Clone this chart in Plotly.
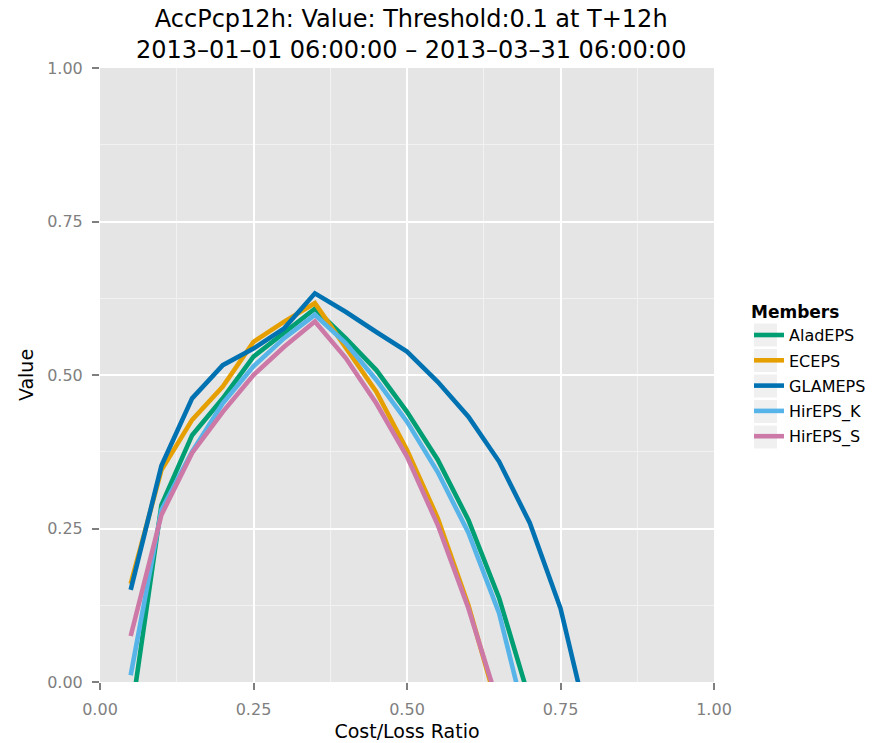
import plotly.graph_objects as go

# Cost/loss ratios at which the economic value was evaluated
cost_loss = [0.05, 0.10, 0.15, 0.20, 0.25, 0.30, 0.35, 0.40, 0.45, 0.50,
             0.55, 0.60, 0.65, 0.70, 0.75, 0.80]

# Relative economic value per ensemble member set
aladeps = [-0.06, 0.288, 0.402, 0.462, 0.530, 0.568, 0.608, 0.560, 0.508, 0.440,
           0.362, 0.264, 0.137, -0.03]
eceps = [0.160, 0.345, 0.427, 0.481, 0.554, 0.587, 0.617, 0.546, 0.473, 0.378,
         0.267, 0.125, -0.05]
glameps = [0.150, 0.352, 0.462, 0.516, 0.543, 0.576, 0.633, 0.603, 0.570, 0.538,
           0.489, 0.432, 0.359, 0.259, 0.120, -0.09]
hireps_k = [0.011, 0.280, 0.375, 0.454, 0.514, 0.560, 0.598, 0.552, 0.492, 0.424,
            0.342, 0.243, 0.112, -0.09]
hireps_s = [0.075, 0.272, 0.373, 0.440, 0.500, 0.546, 0.587, 0.528, 0.454, 0.367,
            0.256, 0.120, -0.04]

members = ["AladEPS", "ECEPS", "GLAMEPS", "HirEPS_K", "HirEPS_S"]
values = [aladeps, eceps, glameps, hireps_k, hireps_s]
colors = ["#009E73", "#E69F00", "#0072B2", "#56B4E9", "#CC79A7"]

x_ticks = [0.0, 0.25, 0.5, 0.75, 1.0]
x_ticklabels = ["0.00", "0.25", "0.50", "0.75", "1.00"]
y_ticks = [0.0, 0.25, 0.5, 0.75, 1.0]
y_ticklabels = ["0.00", "0.25", "0.50", "0.75", "1.00"]

title_text = ("AccPcp12h: Value: Threshold:0.1 at T+12h<br>"
              "2013\u201301\u201301 06:00:00 \u2013 2013\u201303\u201331 06:00:00")

FONT = "DejaVu Sans, Verdana, sans-serif"

# plot-area geometry in pixels (used for the legend key backgrounds)
W, H = 893, 743
ML, MR, MT, MB = 100, 179, 68, 61
PW, PH = W - ML - MR, H - MT - MB

fig = go.Figure()
for name, vals, col in zip(members, values, colors):
    fig.add_trace(go.Scatter(
        x=cost_loss[:len(vals)], y=vals, mode="lines", name=name,
        legendgroup=name,
        line=dict(color=col, width=4.6),
    ))

axis_common = dict(
    range=[0, 1],
    automargin=False,
    showgrid=True, gridcolor="white", gridwidth=1.6,
    zeroline=False, showline=False,
    ticks="outside", ticklen=7, tickwidth=2, tickcolor="#7F7F7F",
    ticklabelstandoff=6,
    tickfont=dict(family=FONT, size=16, color="#7F7F7F"),
    minor=dict(tickvals=[0.125, 0.375, 0.625, 0.875], showgrid=True,
               gridcolor="#F2F2F2", gridwidth=1, ticks=""),
)

fig.update_xaxes(tickvals=x_ticks, ticktext=x_ticklabels,
                 title=dict(text="Cost/Loss Ratio",
                            font=dict(family=FONT, size=19, color="black"),
                            standoff=6),
                 **axis_common)
fig.update_yaxes(tickvals=y_ticks, ticktext=y_ticklabels,
                 title=dict(text="Value",
                            font=dict(family=FONT, size=19, color="black"),
                            standoff=8),
                 **axis_common)

# light grey key backgrounds behind each legend entry
key_centers_px = [335, 360.5, 386, 411.5, 437]
for cy in key_centers_px:
    fig.add_shape(type="rect", xref="paper", yref="paper", layer="below",
                  x0=(754 - ML) / PW, x1=(777 - ML) / PW,
                  y0=(H - MB - cy - 11.5) / PH, y1=(H - MB - cy + 11.5) / PH,
                  fillcolor="#F0F0F0", line=dict(width=0))

fig.add_annotation(text=title_text, xref="paper", yref="paper",
                   x=0.5, y=1, xanchor="center", yanchor="bottom",
                   xshift=4, yshift=2, showarrow=False, align="center",
                   font=dict(family=FONT, size=24, color="black"))

fig.update_layout(
    width=W, height=H,
    margin=dict(l=ML, r=MR, t=MT, b=MB, autoexpand=False),
    paper_bgcolor="white",
    plot_bgcolor="#E5E5E5",
    font=dict(family=FONT, color="black"),
    legend=dict(
        title=dict(text="<b>Members</b>", font=dict(family=FONT, size=17, color="black")),
        font=dict(family=FONT, size=16, color="black"),
        x=(749 - ML) / PW, xanchor="left",
        y=(H - MB - 375) / PH, yanchor="middle",
        bgcolor="rgba(0,0,0,0)",
        tracegroupgap=1.5,
        traceorder="grouped",
        itemwidth=30,
    ),
)

fig.write_html("out.html")
